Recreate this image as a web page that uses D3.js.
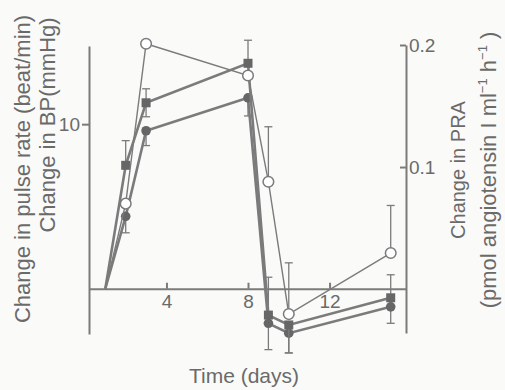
<!DOCTYPE html>
<html><head><meta charset="utf-8">
<script src="https://cdn.jsdelivr.net/npm/d3@7"></script>
<style>
html,body{margin:0;padding:0;background:#fafaf8;}
svg{display:block;font-family:"Liberation Sans",Arial,Helvetica,sans-serif;}
</style></head>
<body><svg id="c" width="505" height="390"></svg>
<script>
// ---- data ----
const days = [1, 2, 3, 8, 9, 10, 15];
// Change in BP (mmHg) - filled squares, left axis
const bp = [0, 7.5, 11.3, 13.7, -1.6, -2.2, -0.55];
const bpErrUp = [0, 1.5, 0.85, 1.4, 2.3, 0, 1.4];
const bpErrDown = [0, 0, 0.85, 0, 0, 1.7, 0];
// Change in pulse rate (beat/min) - filled circles, left axis
const pulse = [0, 4.4, 9.6, 11.6, -2.1, -2.7, -1.1];
const pulseErrUp = [0, 0, 0, 0, 0, 0, 0];
const pulseErrDown = [0, 1.0, 0.9, 1.1, 1.6, 1.2, 1.0];
// Change in PRA (pmol angiotensin I ml-1 h-1) - open circles, right axis
const pra = [0, 0.070, 0.201, 0.175, 0.088, -0.0205, 0.0295];
const praErrUp = [0, 0, 0, 0, 0.045, 0.042, 0.039];
const xTicks = [4, 8, 12];
const leftTicks = [10];
const rightTicks = [0.1, 0.2];

// ---- drawing ----
const svg = d3.select("#c");
const ink = "#7b7b7b", textCol = "#6a6a6a";
const x = d3.scaleLinear().domain([0.2, 15.75]).range([89, 406]);
const yL = d3.scaleLinear().domain([-2.75, 14.75]).range([334, 46]);
const yR = d3.scaleLinear().domain([-0.036, 0.2]).range([333, 45]);

function styleAxis(g){
  g.selectAll("path,line").attr("stroke", ink).attr("stroke-width", 2);
  g.selectAll("text").attr("fill", textCol).attr("font-size", 19)
    .attr("font-family", '"Liberation Sans",Arial,sans-serif');
}
// left axis
svg.append("g").attr("transform", `translate(${x.range()[0]},0)`)
  .call(d3.axisLeft(yL).tickValues(leftTicks).tickSizeInner(7).tickSizeOuter(0).tickPadding(2))
  .call(styleAxis);
// right axis (ticks inward, labels outward)
svg.append("g").attr("transform", `translate(${x.range()[1]},0)`)
  .call(d3.axisRight(yR).tickValues(rightTicks).tickFormat(d3.format(".1f")).tickSizeInner(-6).tickSizeOuter(0).tickPadding(3))
  .call(styleAxis);
// x axis at zero
svg.append("g").attr("transform", `translate(0,${yL(0)})`)
  .call(d3.axisBottom(x).tickValues(xTicks).tickSizeInner(-6).tickSizeOuter(0).tickPadding(6))
  .call(styleAxis);

// series
function series(vals, yS, errUp, errDown, kind, lw){
  const pts = days.map((d,i)=>({d, v: vals[i], up: errUp ? errUp[i] : 0, dn: errDown ? errDown[i] : 0}));
  const g = svg.append("g");
  pts.forEach(p=>{
    const cx = x(p.d);
    [[p.up, 1], [p.dn, -1]].forEach(([e, s])=>{
      if (e > 0){
        const ye = yS(p.v + s*e);
        g.append("line").attr("x1",cx).attr("x2",cx).attr("y1",yS(p.v)).attr("y2",ye).attr("stroke",ink).attr("stroke-width",1.3);
        g.append("line").attr("x1",cx-4).attr("x2",cx+4).attr("y1",ye).attr("y2",ye).attr("stroke",ink).attr("stroke-width",1.3);
      }
    });
  });
  g.append("path").datum(pts)
    .attr("d", d3.line().x(p=>x(p.d)).y(p=>yS(p.v)))
    .attr("fill","none").attr("stroke",ink).attr("stroke-width",lw);
  const m = pts.slice(1);
  if (kind === "square"){
    g.selectAll("rect").data(m).enter().append("rect")
      .attr("x",p=>x(p.d)-4.5).attr("y",p=>yS(p.v)-4.5).attr("width",9).attr("height",9)
      .attr("fill","#666");
  } else if (kind === "dot"){
    g.selectAll("circle").data(m).enter().append("circle")
      .attr("cx",p=>x(p.d)).attr("cy",p=>yS(p.v)).attr("r",4.8).attr("fill","#666");
  } else {
    g.selectAll("circle").data(m).enter().append("circle")
      .attr("cx",p=>x(p.d)).attr("cy",p=>yS(p.v)).attr("r",5.3)
      .attr("fill","#fff").attr("stroke",ink).attr("stroke-width",1.5);
  }
}
series(pulse, yL, pulseErrUp, pulseErrDown, "dot", 2.6);
series(bp, yL, bpErrUp, bpErrDown, "square", 2.6);
series(pra, yR, praErrUp, null, "open", 1.4);

// axis titles
const fs = 22;
svg.append("text").attr("transform","translate(30,169) rotate(-90)")
  .attr("text-anchor","middle").attr("font-size",fs).attr("fill",textCol)
  .text("Change in pulse rate (beat/min)");
svg.append("text").attr("transform","translate(55,125) rotate(-90)")
  .attr("text-anchor","middle").attr("font-size",fs).attr("fill",textCol)
  .text("Change in BP(mmHg)");
svg.append("text").attr("transform","translate(465,170) rotate(-90)")
  .attr("text-anchor","middle").attr("font-size",20).attr("fill",textCol)
  .text("Change in PRA");
const t2 = svg.append("text").attr("transform","translate(496,170) rotate(-90)")
  .attr("text-anchor","middle").attr("font-size",fs).attr("fill",textCol);
t2.append("tspan").text("(pmol angiotensin I ml");
t2.append("tspan").attr("dy",-9).attr("font-size",13).text("−1");
t2.append("tspan").attr("dy",9).text("  h");
t2.append("tspan").attr("dy",-9).attr("font-size",13).text("−1");
t2.append("tspan").attr("dy",9).text(" )");
svg.append("text").attr("x",244).attr("y",383)
  .attr("text-anchor","middle").attr("font-size",21).attr("fill",textCol)
  .text("Time (days)");
</script></body></html>
